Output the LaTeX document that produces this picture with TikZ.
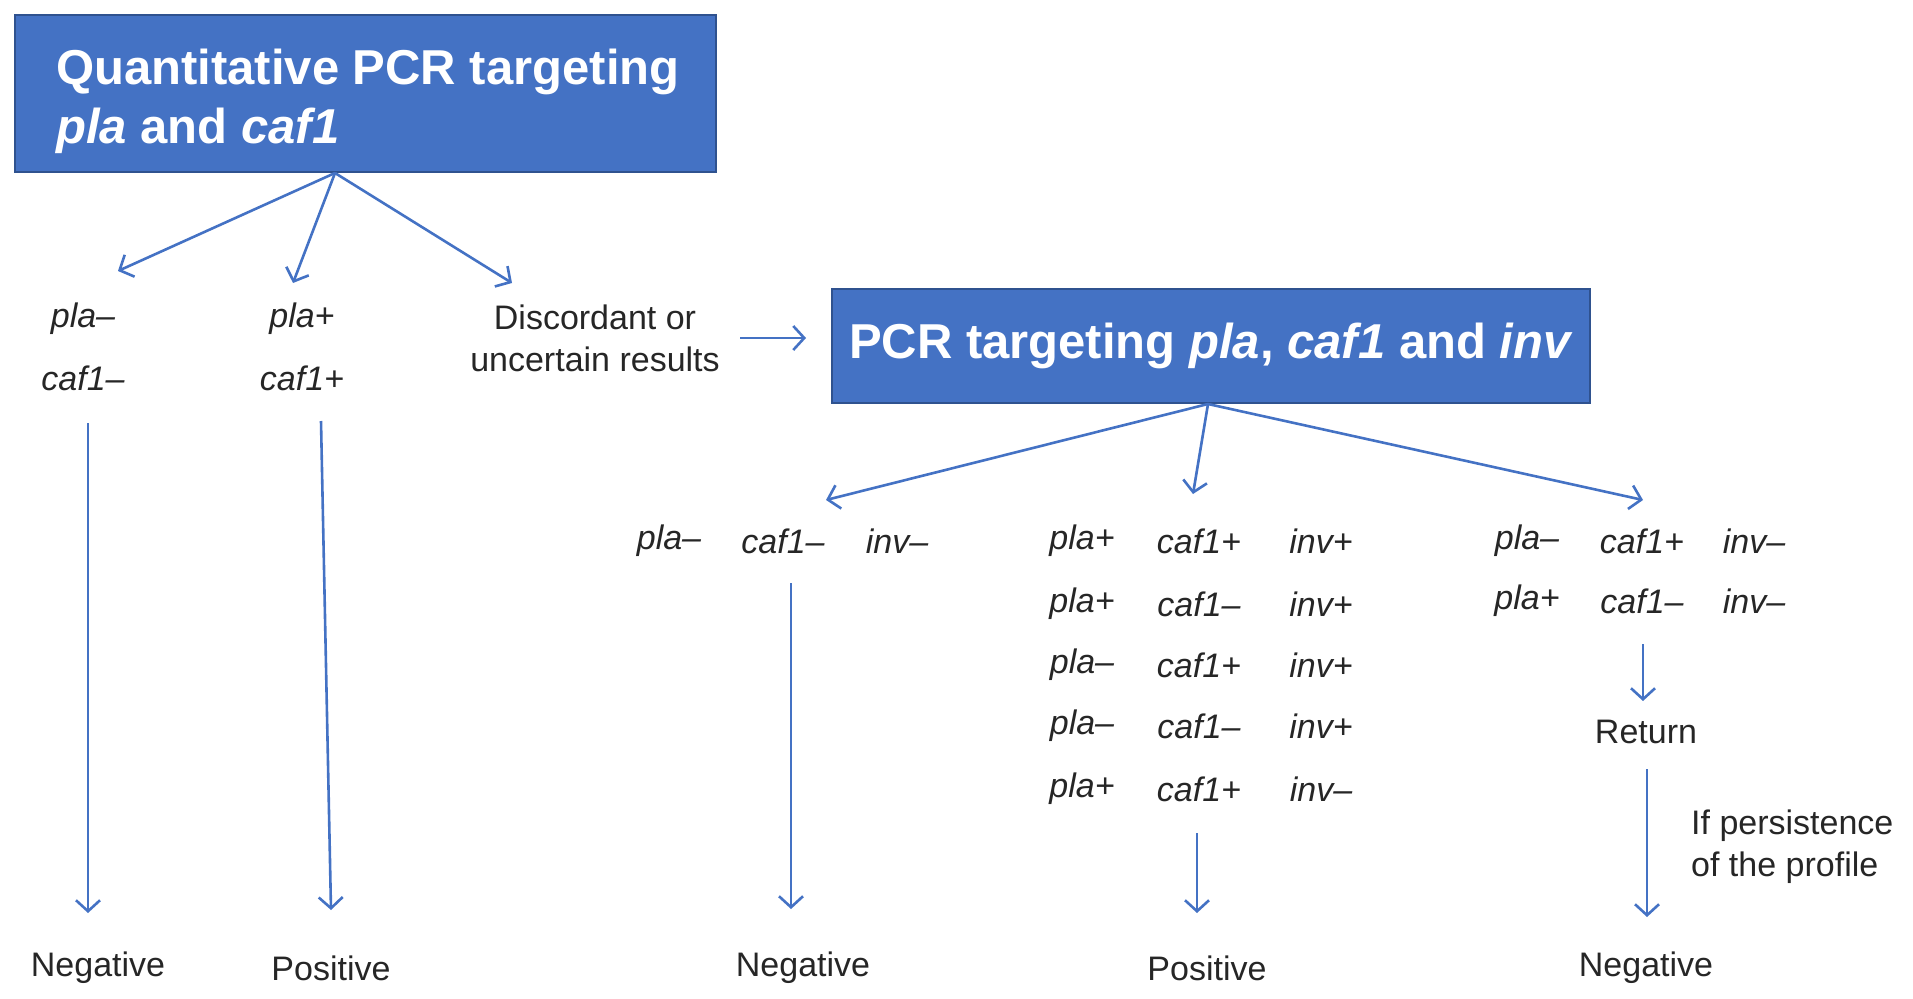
\documentclass[tikz,border=0pt]{standalone}
\usepackage{fontspec}
\setmainfont{Liberation Sans}
\usetikzlibrary{arrows.meta,calc}
\definecolor{boxblue}{HTML}{4472C4}
\definecolor{boxedge}{HTML}{2F528F}
\definecolor{arrblue}{HTML}{4472C4}
\begin{document}
\begin{tikzpicture}[x=1pt,y=-1pt,
  titlebox/.style={draw=boxedge, line width=2.2pt, fill=boxblue, text=white, font=\fontsize{49}{59}\selectfont\bfseries, inner sep=0pt},
  lab/.style={font=\fontsize{34}{42}\selectfont, inner sep=0pt, text=black!85},
  gene/.style={lab, font=\fontsize{34}{42}\selectfont\itshape},
  arr/.style={draw=arrblue, line width=2.6pt, -{Straight Barb[length=11pt,width=24pt,line width=2.6pt]}}
]
\useasboundingbox (0,0) rectangle (1913,998);

% title boxes
\draw[titlebox] (15,15) rectangle (716,172);
\node[titlebox, draw=none, fill=none, align=left, anchor=west] (box1) at (55,101)
  {Quantitative PCR targeting\\\textit{pla} and \textit{caf1}};
\node[titlebox, minimum width=758pt, minimum height=114pt] (box2) at (1211,346)
  {PCR targeting \textit{pla}, \textit{caf1} and \textit{inv}};

% first level labels
\node[gene] (p1) at (83,319) {pla–};
\node[gene] (c1) at (83,378) {caf1–};
\node[gene] (p2) at (302,319) {pla+};
\node[gene] (c2) at (302,378) {caf1+};
\node[lab, align=center] (disc) at (595,338) {Discordant or\\uncertain results};

% second level rows
\node[gene] (l1a) at (669,541) {pla–};
\node[gene] (l1b) at (783,541) {caf1–};
\node[gene] (l1c) at (897,541) {inv–};

\node[gene] (m1a) at (1082,541) {pla+};
\node[gene] (m1b) at (1199,541) {caf1+};
\node[gene] (m1c) at (1321,541) {inv+};
\node[gene] (m2a) at (1082,604) {pla+};
\node[gene] (m2b) at (1199,604) {caf1–};
\node[gene] (m2c) at (1321,604) {inv+};
\node[gene] (m3a) at (1082,665) {pla–};
\node[gene] (m3b) at (1199,665) {caf1+};
\node[gene] (m3c) at (1321,665) {inv+};
\node[gene] (m4a) at (1082,726) {pla–};
\node[gene] (m4b) at (1199,726) {caf1–};
\node[gene] (m4c) at (1321,726) {inv+};
\node[gene] (m5a) at (1082,789) {pla+};
\node[gene] (m5b) at (1199,789) {caf1+};
\node[gene] (m5c) at (1321,789) {inv–};

\node[gene] (r1a) at (1527,541) {pla–};
\node[gene] (r1b) at (1642,541) {caf1+};
\node[gene] (r1c) at (1754,541) {inv–};
\node[gene] (r2a) at (1527,601) {pla+};
\node[gene] (r2b) at (1642,601) {caf1–};
\node[gene] (r2c) at (1754,601) {inv–};

\node[lab] (ret) at (1646,732) {Return};
\node[lab, align=left, anchor=west] (pers) at (1691,847) {If persistence\\of the profile};

% outcomes
\node[lab] (o1) at (98,968) {Negative};
\node[lab] (o2) at (331,968) {Positive};
\node[lab] (o3) at (803,968) {Negative};
\node[lab] (o4) at (1207,968) {Positive};
\node[lab] (o5) at (1646,968) {Negative};

% connector end points
\coordinate (s1) at (335,173);
\coordinate (t1) at (118,271);
\coordinate (t2) at (293,283);
\coordinate (t3) at (512,283);
\coordinate (d1) at (740,338);
\coordinate (d2) at (806,338);
\coordinate (s2) at (1208,404);
\coordinate (u1) at (826,500);
\coordinate (u2) at (1193,494);
\coordinate (u3) at (1643,500);
\coordinate (a1) at (88,423);  \coordinate (a2) at (88,913);
\coordinate (b1) at (321,421); \coordinate (b2) at (331,910);
\coordinate (e1) at (791,583); \coordinate (e2) at (791,909);
\coordinate (f1) at (1197,833); \coordinate (f2) at (1197,913);
\coordinate (g1) at (1643,644); \coordinate (g2) at (1643,701);
\coordinate (h1) at (1647,769); \coordinate (h2) at (1647,917);

\draw[arr] (s1) -- (t1);
\draw[arr] (s1) -- (t2);
\draw[arr] (s1) -- (t3);
\draw[arr] (d1) -- (d2);
\draw[arr] (s2) -- (u1);
\draw[arr] (s2) -- (u2);
\draw[arr] (s2) -- (u3);
\draw[arr] (a1) -- (a2);
\draw[arr] (b1) -- (b2);
\draw[arr] (e1) -- (e2);
\draw[arr] (f1) -- (f2);
\draw[arr] (g1) -- (g2);
\draw[arr] (h1) -- (h2);
\end{tikzpicture}
\end{document}
